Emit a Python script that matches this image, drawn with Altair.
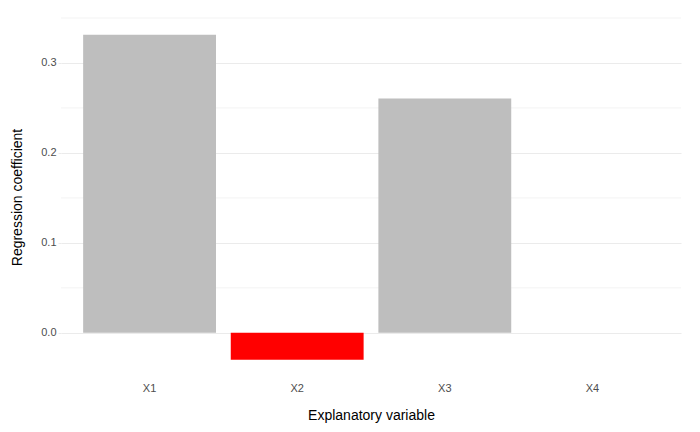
import altair as alt
import pandas as pd

variables = ["X1", "X2", "X3", "X4"]
coefficients = [0.3315, -0.030, 0.2605, 0.0]
bar_colors = ["#BEBEBE", "#FF0000", "#BEBEBE", "#BEBEBE"]
major_breaks = [0.0, 0.1, 0.2, 0.3]
minor_breaks = [0.05, 0.15, 0.25, 0.35]

df = pd.DataFrame({"var": variables, "coef": coefficients, "color": bar_colors})
minor_df = pd.DataFrame({"y": minor_breaks})

ydomain = [-0.048, 0.35]
font = "Liberation Sans"

yscale = alt.Scale(domain=ydomain, nice=False, zero=False)
yaxis = alt.Axis(title="Regression coefficient", values=major_breaks,
                 format=".1f", domain=False, ticks=True, tickSize=3,
                 tickColor="#ebebeb", gridColor="#ebebeb", grid=True,
                 labelColor="#4d4d4d", labelFontSize=11, labelPadding=2,
                 titleFontSize=14, titleFontWeight="normal",
                 titleColor="#000000", titlePadding=16,
                 labelFont=font, titleFont=font)

minor = alt.Chart(minor_df).mark_rule(color="#f3f3f3", strokeWidth=1).encode(
    y=alt.Y("y:Q", scale=yscale, axis=yaxis)
)

bars = alt.Chart(df).mark_bar().encode(
    x=alt.X("var:N", sort=variables,
            scale=alt.Scale(paddingInner=0.1, paddingOuter=0.15),
            axis=alt.Axis(title="Explanatory variable", labelAngle=0, ticks=False,
                          domain=False, grid=False, labelColor="#4d4d4d",
                          labelFontSize=11, labelPadding=6, titleFontSize=14,
                          titleFontWeight="normal", titleColor="#000000",
                          titlePadding=15, labelFont=font, titleFont=font)),
    y=alt.Y("coef:Q", scale=yscale, axis=yaxis),
    color=alt.Color("color:N", scale=None),
)

chart = alt.layer(minor, bars).properties(
    width=620, height=358,
    autosize=alt.AutoSizeParams(type="none"),
    padding={"left": 61, "top": 18, "right": 19, "bottom": 56},
    background="white",
).configure_view(stroke=None)

chart.save("out.html", embed_options={"renderer": "svg", "actions": False})
